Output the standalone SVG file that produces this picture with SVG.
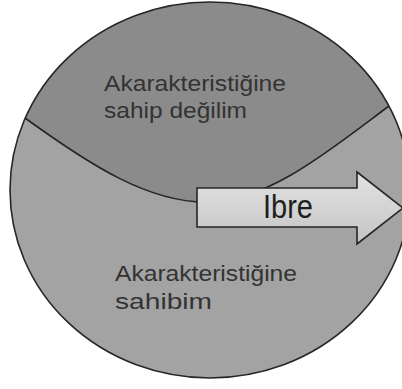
<svg xmlns="http://www.w3.org/2000/svg" width="402" height="389" viewBox="0 0 402 389">
  <style>
    .lbl { font-family: "Liberation Sans", Arial, sans-serif; font-size: 22px; fill: #333333; }
    .arrowtxt { font-family: "Liberation Sans", Arial, sans-serif; font-size: 33px; fill: #1e1e1e; }
    .edge { fill: none; stroke: #262626; stroke-width: 1.6; }
  </style>
  <defs>
    <linearGradient id="arrowGrad" x1="0" y1="0" x2="0" y2="1">
      <stop offset="0" stop-color="#e2e2e2"/>
      <stop offset="0.5" stop-color="#d4d4d4"/>
      <stop offset="1" stop-color="#c4c4c4"/>
    </linearGradient>
    <clipPath id="circleClip">
      <ellipse cx="210" cy="190" rx="200" ry="188"/>
    </clipPath>
  </defs>
  <rect width="402" height="389" fill="#ffffff"/>
  <g id="region-sahibim">
    <ellipse cx="210" cy="190" rx="200" ry="188" fill="#a3a3a3"/>
  </g>
  <g id="region-sahip-degilim">
    <path d="M0,0 L402,0 L402,106 L389,106 C330,150 270,200 210,202 C150,204 90,165 25,118 L0,118 Z" fill="#8b8b8b" clip-path="url(#circleClip)"/>
  </g>
  <g id="connectors">
    <path class="edge" d="M25,118 C90,165 150,204 210,202 C270,200 330,150 389,106"/>
    <ellipse class="edge" cx="210" cy="190" rx="200" ry="188"/>
  </g>
  <g id="label-top">
    <text class="lbl" x="104" y="91" textLength="182" lengthAdjust="spacingAndGlyphs">Akarakteristiğine</text>
    <text class="lbl" x="104" y="118" textLength="143" lengthAdjust="spacingAndGlyphs">sahip değilim</text>
  </g>
  <g id="label-bottom">
    <text class="lbl" x="115" y="281" textLength="182" lengthAdjust="spacingAndGlyphs">Akarakteristiğine</text>
    <text class="lbl" x="115" y="309" textLength="97" lengthAdjust="spacingAndGlyphs">sahibim</text>
  </g>
  <g id="arrow-ibre">
    <polygon points="197,188 357,188 357,172 403,208 357,244 357,227 197,227" fill="url(#arrowGrad)" stroke="#262626" stroke-width="1.6" stroke-linejoin="miter"/>
    <text class="arrowtxt" x="263" y="218" textLength="50" lengthAdjust="spacingAndGlyphs">Ibre</text>
  </g>
</svg>
